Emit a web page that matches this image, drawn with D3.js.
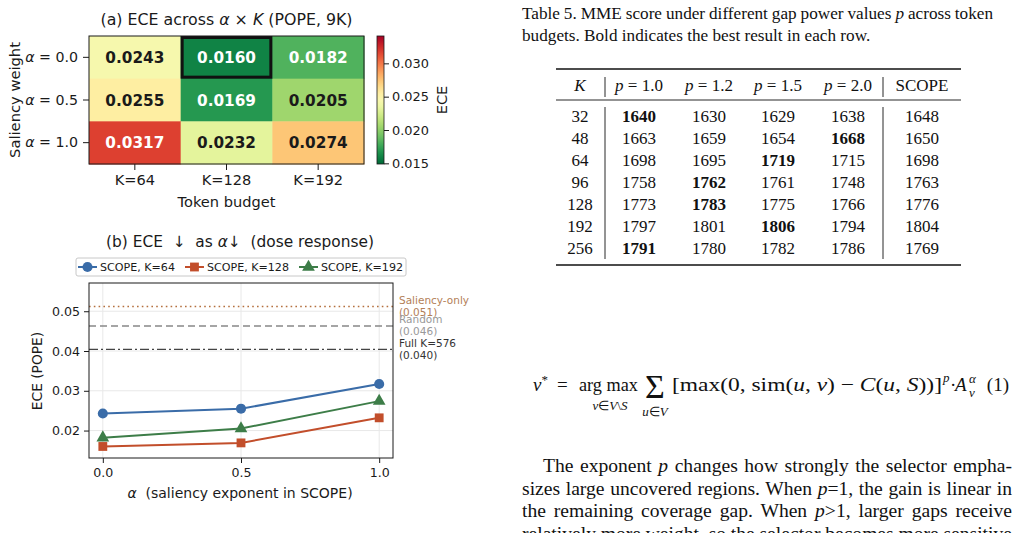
<!DOCTYPE html>
<html>
<head>
<meta charset="utf-8">
<script src="https://cdn.jsdelivr.net/npm/d3@7"></script>
<style>
  body { margin: 0; background: #fff; }
  svg { display: block; }
  text { white-space: pre; }
</style>
</head>
<body>
<script>
// ---- data ----
var alphas = [0.0, 0.5, 1.0];
var budgets = ["K=64", "K=128", "K=192"];
var eceK64 = [0.0243, 0.0255, 0.0317];
var eceK128 = [0.0160, 0.0169, 0.0232];
var eceK192 = [0.0182, 0.0205, 0.0274];
var refNames = ["Saliency-only", "Random", "Full K=576"];
var refValues = [0.0512, 0.0463, 0.0404];
var refLabels = ["(0.051)", "(0.046)", "(0.040)"];

var tableKs = [32, 48, 64, 96, 128, 192, 256];
var tablePowers = ["1.0", "1.2", "1.5", "2.0"];
var mmeP10 = [1640, 1663, 1698, 1758, 1773, 1797, 1791];
var mmeP12 = [1630, 1659, 1695, 1762, 1783, 1801, 1780];
var mmeP15 = [1629, 1654, 1719, 1761, 1775, 1806, 1782];
var mmeP20 = [1638, 1668, 1715, 1748, 1766, 1794, 1786];
var mmeScope = [1648, 1650, 1698, 1763, 1776, 1804, 1769];

var width = 1014, height = 533;
var ink = "#1a1a1a";

var svg = d3.select("body").append("svg")
  .attr("width", width).attr("height", height)
  .style("font-family", "'DejaVu Sans', sans-serif");

// ================= (a) heatmap =================
var series = [eceK64, eceK128, eceK192];
var cells = [];
alphas.forEach(function(a, i) {
  series.forEach(function(s, j) {
    cells.push({ alpha: a, k: budgets[j], v: s[i] });
  });
});

var hmX = d3.scaleBand().domain(budgets).range([89, 364]);
var hmY = d3.scaleBand().domain(alphas).range([36, 164]);
var hmNorm = d3.scaleLinear().domain([0.0149, 0.0341]).range([0, 1]);
var hmColor = function(v) { return d3.interpolateRdYlGn(1 - hmNorm(v)); };

var hm = svg.append("g");
hm.selectAll("rect.cell").data(cells).join("rect")
  .attr("class", "cell")
  .attr("x", d => hmX(d.k)).attr("y", d => hmY(d.alpha))
  .attr("width", hmX.bandwidth() + 0.5).attr("height", hmY.bandwidth() + 0.5)
  .attr("fill", d => hmColor(d.v));

hm.selectAll("text.val").data(cells).join("text")
  .attr("class", "val")
  .attr("x", d => hmX(d.k) + hmX.bandwidth() / 2)
  .attr("y", d => hmY(d.alpha) + hmY.bandwidth() / 2 + 5.5)
  .attr("text-anchor", "middle")
  .style("font-size", "15.3px").style("font-weight", "bold")
  .attr("fill", d => (hmNorm(d.v) < 0.25 || hmNorm(d.v) > 0.75) ? "#fff" : ink)
  .text(d => d.v.toFixed(4));

// best cell outline
var best = d3.least(cells, d => d.v);
hm.append("rect")
  .attr("x", hmX(best.k) + 1.5).attr("y", hmY(best.alpha) + 1.5)
  .attr("width", hmX.bandwidth() - 3).attr("height", hmY.bandwidth() - 3)
  .attr("fill", "none").attr("stroke", "#111").attr("stroke-width", 3);

hm.append("rect").attr("x", 89).attr("y", 36).attr("width", 275).attr("height", 128)
  .attr("fill", "none").attr("stroke", ink).attr("stroke-width", 1);

var hmYAxis = hm.append("g").attr("transform", "translate(89,0)")
  .call(d3.axisLeft(hmY).tickSize(6).tickPadding(5));
hmYAxis.selectAll("text").each(function(d) {
  var t = d3.select(this).text(null).style("font-size", "14.2px").attr("fill", ink);
  t.append("tspan").style("font-style", "italic").text("α");
  t.append("tspan").text(" = " + d.toFixed(1));
});
var hmXAxis = hm.append("g").attr("transform", "translate(0,164)")
  .call(d3.axisBottom(hmX).tickSize(6).tickPadding(5));
hmXAxis.selectAll("text").style("font-size", "14.6px").attr("fill", ink);
[hmYAxis, hmXAxis].forEach(function(ax) {
  ax.attr("font-family", null);
  ax.select(".domain").remove();
  ax.selectAll("line").attr("stroke", ink);
});

hm.append("text").attr("x", 226.5).attr("y", 25).attr("text-anchor", "middle")
  .style("font-size", "15.8px").attr("fill", ink)
  .call(function(t) {
    t.append("tspan").text("(a) ECE across ");
    t.append("tspan").style("font-style", "italic").text("α");
    t.append("tspan").text(" × ");
    t.append("tspan").style("font-style", "italic").text("K");
    t.append("tspan").text(" (POPE, 9K)");
  });
hm.append("text").attr("x", 226.5).attr("y", 207).attr("text-anchor", "middle")
  .style("font-size", "14.6px").attr("fill", ink).text("Token budget");
hm.append("text").attr("transform", "translate(19.5,100) rotate(-90)").attr("text-anchor", "middle")
  .style("font-size", "14.7px").attr("fill", ink).text("Saliency weight");

// colorbar
var cbY = d3.scaleLinear().domain(hmNorm.domain()).range([164, 36]);
var defs = svg.append("defs");
var grad = defs.append("linearGradient").attr("id", "cbgrad")
  .attr("x1", 0).attr("y1", 1).attr("x2", 0).attr("y2", 0);
d3.range(0, 1.0001, 0.05).forEach(function(t) {
  grad.append("stop").attr("offset", t).attr("stop-color", d3.interpolateRdYlGn(1 - t));
});
hm.append("rect").attr("x", 377).attr("y", 36).attr("width", 7).attr("height", 128)
  .attr("fill", "url(#cbgrad)").attr("stroke", ink).attr("stroke-width", 0.8);
var cbAxis = hm.append("g").attr("transform", "translate(384,0)")
  .call(d3.axisRight(cbY).tickValues([0.015, 0.020, 0.025, 0.030]).tickFormat(d3.format(".3f"))
    .tickSize(5).tickPadding(3));
cbAxis.attr("font-family", null);
cbAxis.select(".domain").remove();
cbAxis.selectAll("line").attr("stroke", ink);
cbAxis.selectAll("text").style("font-size", "12.9px").attr("fill", ink);
hm.append("text").attr("transform", "translate(447,100) rotate(-90)").attr("text-anchor", "middle")
  .style("font-size", "14.6px").attr("fill", ink).text("ECE");

// ================= (b) line chart =================
var lc = svg.append("g");
var x = d3.scaleLinear().domain([-0.05, 1.05]).range([89, 393]);
var y = d3.scaleLinear().domain([0.0131, 0.0571]).range([458, 283]);
var yTicks = [0.02, 0.03, 0.04, 0.05];

lc.selectAll("line.gy").data(yTicks).join("line").attr("class", "gy")
  .attr("x1", 89).attr("x2", 393).attr("y1", d => y(d)).attr("y2", d => y(d))
  .attr("stroke", "#e8e8e8").attr("stroke-width", 1);
lc.selectAll("line.gx").data(alphas).join("line").attr("class", "gx")
  .attr("y1", 283).attr("y2", 458).attr("x1", d => x(d)).attr("x2", d => x(d))
  .attr("stroke", "#e8e8e8").attr("stroke-width", 1);

var refColors = ["#b5703f", "#888888", "#444444"];
var refText = ["#b38058", "#999999", "#333333"];
var refDash = ["1.6,3.2", "7,4", "9,3,2,3"];
lc.selectAll("line.ref").data(refValues).join("line").attr("class", "ref")
  .attr("x1", 89).attr("x2", 393).attr("y1", d => y(d)).attr("y2", d => y(d))
  .attr("stroke", (d, i) => refColors[i]).attr("stroke-width", 1.4)
  .attr("stroke-dasharray", (d, i) => refDash[i]);
refValues.forEach(function(v, i) {
  var t = lc.append("text").attr("x", 399).attr("y", y(v) - 2.5)
    .style("font-size", "10.5px").attr("fill", refText[i]);
  t.append("tspan").attr("x", 399).text(refNames[i]);
  t.append("tspan").attr("x", 399).attr("dy", 12).text(refLabels[i]);
});

var lineSeries = [
  { name: "SCOPE, K=64", vals: eceK64, color: "#3a6ca8", sym: d3.symbolCircle, size: 80 },
  { name: "SCOPE, K=128", vals: eceK128, color: "#c24e2b", sym: d3.symbolSquare, size: 78 },
  { name: "SCOPE, K=192", vals: eceK192, color: "#3d7d48", sym: d3.symbolTriangle, size: 70 }
];
var line = d3.line().x((d, i) => x(alphas[i])).y(d => y(d));
lineSeries.forEach(function(s) {
  lc.append("path").attr("d", line(s.vals)).attr("fill", "none")
    .attr("stroke", s.color).attr("stroke-width", 2);
  lc.selectAll(null).data(s.vals).join("path")
    .attr("transform", (d, i) => "translate(" + x(alphas[i]) + "," + y(d) + ")")
    .attr("d", d3.symbol().type(s.sym).size(s.size))
    .attr("fill", s.color);
});

lc.append("rect").attr("x", 89).attr("y", 283).attr("width", 304).attr("height", 175)
  .attr("fill", "none").attr("stroke", ink).attr("stroke-width", 1);

var yAx = lc.append("g").attr("transform", "translate(89,0)")
  .call(d3.axisLeft(y).tickValues(yTicks).tickFormat(d3.format(".2f")).tickSize(5).tickPadding(4));
var xAx = lc.append("g").attr("transform", "translate(0,458)")
  .call(d3.axisBottom(x).tickValues(alphas).tickFormat(d3.format(".1f")).tickSize(5).tickPadding(5));
[yAx, xAx].forEach(function(ax) {
  ax.attr("font-family", null);
  ax.select(".domain").remove();
  ax.selectAll("line").attr("stroke", ink);
  ax.selectAll("text").style("font-size", "12.6px").attr("fill", ink);
});

lc.append("text").attr("x", 240).attr("y", 247).attr("text-anchor", "middle")
  .style("font-size", "15.4px").attr("fill", ink)
  .call(function(t) {
    t.append("tspan").text("(b) ECE  ↓  as ");
    t.append("tspan").style("font-style", "italic").text("α");
    t.append("tspan").text("↓  (dose response)");
  });
lc.append("text").attr("x", 240).attr("y", 498).attr("text-anchor", "middle")
  .style("font-size", "14px").attr("fill", ink)
  .call(function(t) {
    t.append("tspan").style("font-style", "italic").text("α");
    t.append("tspan").text("  (saliency exponent in SCOPE)");
  });
lc.append("text").attr("transform", "translate(42,371) rotate(-90)").attr("text-anchor", "middle")
  .style("font-size", "13.8px").attr("fill", ink).text("ECE (POPE)");

// legend
var leg = lc.append("g");
var legBox = leg.append("rect").attr("x", 76).attr("y", 258).attr("height", 18)
  .attr("rx", 2).attr("fill", "#fff").attr("stroke", "#c8c8c8").attr("stroke-width", 1);
var lx = 78;
lineSeries.forEach(function(s) {
  leg.append("line").attr("x1", lx).attr("x2", lx + 19).attr("y1", 267).attr("y2", 267)
    .attr("stroke", s.color).attr("stroke-width", 2);
  leg.append("path").attr("transform", "translate(" + (lx + 9.5) + ",267)")
    .attr("d", d3.symbol().type(s.sym).size(s.size)).attr("fill", s.color);
  var t = leg.append("text").attr("x", lx + 22).attr("y", 271)
    .style("font-size", "11.1px").attr("fill", ink).text(s.name);
  lx += 22 + t.node().getComputedTextLength() + 10;
});
legBox.attr("width", lx - 10 + 3 - 76);

// ================= right column: table, equation, text =================
var serif = "'Liberation Serif', 'Times New Roman', serif";
var rc = svg.append("g").style("font-family", serif).attr("fill", "#111");

// justify a line by spreading its word gaps
function justify(t, x0, x1) {
  var nat = t.node().getComputedTextLength();
  var gaps = (t.text().match(/ /g) || []).length;
  if (gaps) t.style("word-spacing", ((x1 - x0 - nat) / gaps) + "px");
}

var cap1 = rc.append("text").attr("x", 522).attr("y", 19).style("font-size", "17.2px")
  .call(function(t) {
    t.append("tspan").text("Table 5. MME score under different gap power values ");
    t.append("tspan").style("font-style", "italic").text("p");
    t.append("tspan").text(" across token");
  });
justify(cap1, 522, 993);
rc.append("text").attr("x", 522).attr("y", 41).style("font-size", "17.2px")
  .text("budgets. Bold indicates the best result in each row.");

var colX = [580, 639, 709, 778, 848, 922];
var rowY = d3.scalePoint().domain(tableKs).range([116, 248]);
var tableCols = [mmeP10, mmeP12, mmeP15, mmeP20];

rc.append("line").attr("x1", 556).attr("x2", 961).attr("y1", 69).attr("y2", 69)
  .attr("stroke", "#111").attr("stroke-width", 1.4);
rc.append("line").attr("x1", 556).attr("x2", 961).attr("y1", 100).attr("y2", 100)
  .attr("stroke", "#111").attr("stroke-width", 0.9);
rc.append("line").attr("x1", 556).attr("x2", 961).attr("y1", 265).attr("y2", 265)
  .attr("stroke", "#111").attr("stroke-width", 1.4);
[605, 883].forEach(function(vx) {
  rc.append("line").attr("x1", vx).attr("x2", vx).attr("y1", 77).attr("y2", 97)
    .attr("stroke", "#111").attr("stroke-width", 0.9);
  rc.append("line").attr("x1", vx).attr("x2", vx).attr("y1", 107).attr("y2", 259)
    .attr("stroke", "#111").attr("stroke-width", 0.9);
});

var head = rc.append("g").style("font-size", "17px").attr("text-anchor", "middle");
head.append("text").attr("x", colX[0]).attr("y", 91).style("font-style", "italic").text("K");
tablePowers.forEach(function(p, i) {
  head.append("text").attr("x", colX[i + 1]).attr("y", 91)
    .call(function(t) {
      t.append("tspan").style("font-style", "italic").text("p");
      t.append("tspan").text(" = " + p);
    });
});
head.append("text").attr("x", colX[5]).attr("y", 91).text("SCOPE");

var body = rc.append("g").style("font-size", "17px").attr("text-anchor", "middle");
tableKs.forEach(function(k, r) {
  var ty = rowY(k) + 6;
  body.append("text").attr("x", colX[0]).attr("y", ty).text(k);
  var rowVals = tableCols.map(c => c[r]);
  var mx = d3.max(rowVals);
  rowVals.forEach(function(v, c) {
    body.append("text").attr("x", colX[c + 1]).attr("y", ty)
      .style("font-weight", v === mx ? "bold" : "normal").text(v);
  });
  body.append("text").attr("x", colX[5]).attr("y", ty).text(mmeScope[r]);
});

// equation (1)
var eq = rc.append("g").style("font-size", "19px");
var e1 = eq.append("text").attr("x", 533).attr("y", 391);
e1.append("tspan").style("font-style", "italic").text("v");
e1.append("tspan").attr("dy", -7).style("font-size", "13px").text("*");
eq.append("text").attr("x", 557).attr("y", 391).text("=");
eq.append("text").attr("x", 579).attr("y", 391).attr("textLength", 59)
  .attr("lengthAdjust", "spacingAndGlyphs").text("arg max");
var sub1 = eq.append("text").attr("x", 610).attr("y", 410).attr("text-anchor", "middle").style("font-size", "13px");
sub1.append("tspan").style("font-style", "italic").text("v");
sub1.append("tspan").text("∈");
sub1.append("tspan").style("font-style", "italic").text("V");
sub1.append("tspan").text("\\");
sub1.append("tspan").style("font-style", "italic").text("S");
eq.append("text").attr("x", 655).attr("y", 398).attr("text-anchor", "middle").style("font-size", "34px").text("Σ");
var sub2 = eq.append("text").attr("x", 655).attr("y", 416).attr("text-anchor", "middle").style("font-size", "13px");
sub2.append("tspan").style("font-style", "italic").text("u");
sub2.append("tspan").text("∈");
sub2.append("tspan").style("font-style", "italic").text("V");
var e2 = eq.append("text").attr("x", 672).attr("y", 391)
  .attr("textLength", 270).attr("lengthAdjust", "spacingAndGlyphs");
e2.append("tspan").text("[max(0, sim(");
e2.append("tspan").style("font-style", "italic").text("u");
e2.append("tspan").text(", ");
e2.append("tspan").style("font-style", "italic").text("v");
e2.append("tspan").text(") − ");
e2.append("tspan").style("font-style", "italic").text("C");
e2.append("tspan").text("(");
e2.append("tspan").style("font-style", "italic").text("u");
e2.append("tspan").text(", ");
e2.append("tspan").style("font-style", "italic").text("S");
e2.append("tspan").text("))]");
eq.append("text").attr("x", 943).attr("y", 382).style("font-size", "13px").style("font-style", "italic").text("p");
eq.append("text").attr("x", 950).attr("y", 391).text("·");
eq.append("text").attr("x", 955).attr("y", 391).style("font-style", "italic").text("A");
eq.append("text").attr("x", 969).attr("y", 383).style("font-size", "13px").style("font-style", "italic").text("α");
eq.append("text").attr("x", 969).attr("y", 397).style("font-size", "13px").style("font-style", "italic").text("v");
eq.append("text").attr("x", 1009).attr("y", 391).attr("text-anchor", "end").text("(1)");

// paragraph
var para = rc.append("g").style("font-size", "19.6px");
var paraLines = [
  { x: 543, parts: ["The exponent ", "p", " changes how strongly the selector empha-"] },
  { x: 522, parts: ["sizes large uncovered regions. When ", "p", "=1, the gain is linear in"] },
  { x: 522, parts: ["the remaining coverage gap. When ", "p", ">1, larger gaps receive"] },
  { x: 522, parts: ["relatively more weight, so the selector becomes more sensitive"] }
];
paraLines.forEach(function(l, i) {
  var t = para.append("text").attr("x", l.x).attr("y", 472 + i * 22.5);
  l.parts.forEach(function(p, j) {
    t.append("tspan").style("font-style", j === 1 ? "italic" : "normal").text(p);
  });
  justify(t, l.x, 1012);
});
</script>
</body>
</html>
